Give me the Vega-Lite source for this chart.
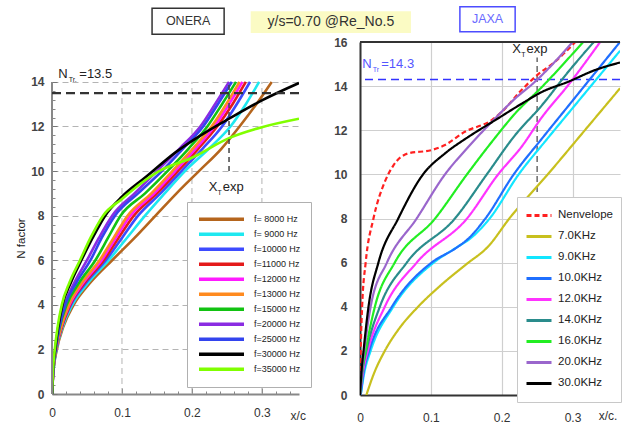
{
"$schema": "https://vega.github.io/schema/vega-lite/v6.json",
"padding": {"left": 15, "top": 5, "right": 0, "bottom": 0},
"columns": 2,
"align": "none",
"spacing": {"column": -78, "row": 0},
"config": {"font": "Liberation Sans", "view": {"stroke": null}},
"resolve": {"scale": {"color": "independent", "strokeDash": "independent"}},
"datasets": {
"onera": [
{"s":"f= 8000 Hz","x":0,"n":0},{"s":"f= 8000 Hz","x":0.002,"n":1},{"s":"f= 8000 Hz","x":0.007,"n":2},{"s":"f= 8000 Hz","x":0.016,"n":3},{"s":"f= 8000 Hz","x":0.031,"n":4},{"s":"f= 8000 Hz","x":0.055,"n":5},{"s":"f= 8000 Hz","x":0.086,"n":6},{"s":"f= 8000 Hz","x":0.118,"n":7},{"s":"f= 8000 Hz","x":0.148,"n":8},{"s":"f= 8000 Hz","x":0.178,"n":9},{"s":"f= 8000 Hz","x":0.21,"n":10},{"s":"f= 8000 Hz","x":0.242,"n":11},{"s":"f= 8000 Hz","x":0.268,"n":12},{"s":"f= 8000 Hz","x":0.292,"n":13},{"s":"f= 8000 Hz","x":0.314,"n":14},
{"s":"f= 9000 Hz","x":0,"n":0},{"s":"f= 9000 Hz","x":0.002,"n":1},{"s":"f= 9000 Hz","x":0.0065,"n":2},{"s":"f= 9000 Hz","x":0.015,"n":3},{"s":"f= 9000 Hz","x":0.029,"n":4},{"s":"f= 9000 Hz","x":0.052,"n":5},{"s":"f= 9000 Hz","x":0.081,"n":6},{"s":"f= 9000 Hz","x":0.107,"n":7},{"s":"f= 9000 Hz","x":0.133,"n":8},{"s":"f= 9000 Hz","x":0.161,"n":9},{"s":"f= 9000 Hz","x":0.19,"n":10},{"s":"f= 9000 Hz","x":0.224,"n":11},{"s":"f= 9000 Hz","x":0.255,"n":12},{"s":"f= 9000 Hz","x":0.277,"n":13},{"s":"f= 9000 Hz","x":0.296,"n":14},
{"s":"f=10000 Hz","x":0,"n":0},{"s":"f=10000 Hz","x":0.0018,"n":1},{"s":"f=10000 Hz","x":0.006,"n":2},{"s":"f=10000 Hz","x":0.014,"n":3},{"s":"f=10000 Hz","x":0.027,"n":4},{"s":"f=10000 Hz","x":0.049,"n":5},{"s":"f=10000 Hz","x":0.077,"n":6},{"s":"f=10000 Hz","x":0.1,"n":7},{"s":"f=10000 Hz","x":0.123,"n":8},{"s":"f=10000 Hz","x":0.155,"n":9},{"s":"f=10000 Hz","x":0.185,"n":10},{"s":"f=10000 Hz","x":0.215,"n":11},{"s":"f=10000 Hz","x":0.243,"n":12},{"s":"f=10000 Hz","x":0.264,"n":13},{"s":"f=10000 Hz","x":0.283,"n":14},
{"s":"f=11000 Hz","x":0,"n":0},{"s":"f=11000 Hz","x":0.0018,"n":1},{"s":"f=11000 Hz","x":0.006,"n":2},{"s":"f=11000 Hz","x":0.014,"n":3},{"s":"f=11000 Hz","x":0.026,"n":4},{"s":"f=11000 Hz","x":0.047,"n":5},{"s":"f=11000 Hz","x":0.074,"n":6},{"s":"f=11000 Hz","x":0.095,"n":7},{"s":"f=11000 Hz","x":0.117,"n":8},{"s":"f=11000 Hz","x":0.15,"n":9},{"s":"f=11000 Hz","x":0.18,"n":10},{"s":"f=11000 Hz","x":0.209,"n":11},{"s":"f=11000 Hz","x":0.236,"n":12},{"s":"f=11000 Hz","x":0.258,"n":13},{"s":"f=11000 Hz","x":0.277,"n":14},
{"s":"f=12000 Hz","x":0,"n":0},{"s":"f=12000 Hz","x":0.0017,"n":1},{"s":"f=12000 Hz","x":0.0058,"n":2},{"s":"f=12000 Hz","x":0.013,"n":3},{"s":"f=12000 Hz","x":0.025,"n":4},{"s":"f=12000 Hz","x":0.045,"n":5},{"s":"f=12000 Hz","x":0.071,"n":6},{"s":"f=12000 Hz","x":0.091,"n":7},{"s":"f=12000 Hz","x":0.112,"n":8},{"s":"f=12000 Hz","x":0.146,"n":9},{"s":"f=12000 Hz","x":0.176,"n":10},{"s":"f=12000 Hz","x":0.205,"n":11},{"s":"f=12000 Hz","x":0.232,"n":12},{"s":"f=12000 Hz","x":0.253,"n":13},{"s":"f=12000 Hz","x":0.272,"n":14},
{"s":"f=13000 Hz","x":0,"n":0},{"s":"f=13000 Hz","x":0.0017,"n":1},{"s":"f=13000 Hz","x":0.0056,"n":2},{"s":"f=13000 Hz","x":0.013,"n":3},{"s":"f=13000 Hz","x":0.024,"n":4},{"s":"f=13000 Hz","x":0.043,"n":5},{"s":"f=13000 Hz","x":0.068,"n":6},{"s":"f=13000 Hz","x":0.088,"n":7},{"s":"f=13000 Hz","x":0.108,"n":8},{"s":"f=13000 Hz","x":0.142,"n":9},{"s":"f=13000 Hz","x":0.172,"n":10},{"s":"f=13000 Hz","x":0.201,"n":11},{"s":"f=13000 Hz","x":0.228,"n":12},{"s":"f=13000 Hz","x":0.249,"n":13},{"s":"f=13000 Hz","x":0.268,"n":14},
{"s":"f=15000 Hz","x":0,"n":0},{"s":"f=15000 Hz","x":0.0016,"n":1},{"s":"f=15000 Hz","x":0.0053,"n":2},{"s":"f=15000 Hz","x":0.011,"n":3},{"s":"f=15000 Hz","x":0.021,"n":4},{"s":"f=15000 Hz","x":0.039,"n":5},{"s":"f=15000 Hz","x":0.062,"n":6},{"s":"f=15000 Hz","x":0.08,"n":7},{"s":"f=15000 Hz","x":0.098,"n":8},{"s":"f=15000 Hz","x":0.133,"n":9},{"s":"f=15000 Hz","x":0.165,"n":10},{"s":"f=15000 Hz","x":0.195,"n":11},{"s":"f=15000 Hz","x":0.222,"n":12},{"s":"f=15000 Hz","x":0.243,"n":13},{"s":"f=15000 Hz","x":0.263,"n":14},
{"s":"f=20000 Hz","x":0,"n":0},{"s":"f=20000 Hz","x":0.0015,"n":1},{"s":"f=20000 Hz","x":0.005,"n":2},{"s":"f=20000 Hz","x":0.01,"n":3},{"s":"f=20000 Hz","x":0.018,"n":4},{"s":"f=20000 Hz","x":0.032,"n":5},{"s":"f=20000 Hz","x":0.05,"n":6},{"s":"f=20000 Hz","x":0.067,"n":7},{"s":"f=20000 Hz","x":0.086,"n":8},{"s":"f=20000 Hz","x":0.118,"n":9},{"s":"f=20000 Hz","x":0.15,"n":10},{"s":"f=20000 Hz","x":0.182,"n":11},{"s":"f=20000 Hz","x":0.212,"n":12},{"s":"f=20000 Hz","x":0.233,"n":13},{"s":"f=20000 Hz","x":0.253,"n":14},
{"s":"f=25000 Hz","x":0,"n":0},{"s":"f=25000 Hz","x":0.0015,"n":1},{"s":"f=25000 Hz","x":0.005,"n":2},{"s":"f=25000 Hz","x":0.0105,"n":3},{"s":"f=25000 Hz","x":0.019,"n":4},{"s":"f=25000 Hz","x":0.035,"n":5},{"s":"f=25000 Hz","x":0.055,"n":6},{"s":"f=25000 Hz","x":0.071,"n":7},{"s":"f=25000 Hz","x":0.09,"n":8},{"s":"f=25000 Hz","x":0.123,"n":9},{"s":"f=25000 Hz","x":0.157,"n":10},{"s":"f=25000 Hz","x":0.187,"n":11},{"s":"f=25000 Hz","x":0.216,"n":12},{"s":"f=25000 Hz","x":0.237,"n":13},{"s":"f=25000 Hz","x":0.257,"n":14},
{"s":"f=30000 Hz","x":0,"n":0},{"s":"f=30000 Hz","x":0.0013,"n":1},{"s":"f=30000 Hz","x":0.0045,"n":2},{"s":"f=30000 Hz","x":0.009,"n":3},{"s":"f=30000 Hz","x":0.015,"n":4},{"s":"f=30000 Hz","x":0.027,"n":5},{"s":"f=30000 Hz","x":0.042,"n":6},{"s":"f=30000 Hz","x":0.058,"n":7},{"s":"f=30000 Hz","x":0.076,"n":8},{"s":"f=30000 Hz","x":0.1,"n":8.85},{"s":"f=30000 Hz","x":0.134,"n":9.73},{"s":"f=30000 Hz","x":0.177,"n":10.85},{"s":"f=30000 Hz","x":0.22,"n":11.75},{"s":"f=30000 Hz","x":0.253,"n":12.35},{"s":"f=30000 Hz","x":0.3,"n":13.17},{"s":"f=30000 Hz","x":0.353,"n":13.95},
{"s":"f=35000 Hz","x":0,"n":0},{"s":"f=35000 Hz","x":0.0013,"n":1},{"s":"f=35000 Hz","x":0.004,"n":2},{"s":"f=35000 Hz","x":0.008,"n":3},{"s":"f=35000 Hz","x":0.014,"n":4},{"s":"f=35000 Hz","x":0.025,"n":5},{"s":"f=35000 Hz","x":0.04,"n":6},{"s":"f=35000 Hz","x":0.055,"n":7},{"s":"f=35000 Hz","x":0.073,"n":8},{"s":"f=35000 Hz","x":0.1,"n":8.75},{"s":"f=35000 Hz","x":0.125,"n":9.4},{"s":"f=35000 Hz","x":0.153,"n":10.0},{"s":"f=35000 Hz","x":0.2,"n":10.6},{"s":"f=35000 Hz","x":0.253,"n":11.48},{"s":"f=35000 Hz","x":0.3,"n":11.97},{"s":"f=35000 Hz","x":0.353,"n":12.35}
],
"jaxa": [
{"s":"Nenvelope","x":0,"n":0},{"s":"Nenvelope","x":0.001,"n":2},{"s":"Nenvelope","x":0.003,"n":4},{"s":"Nenvelope","x":0.008,"n":6},{"s":"Nenvelope","x":0.019,"n":8},{"s":"Nenvelope","x":0.035,"n":9.66},{"s":"Nenvelope","x":0.047,"n":10.4},{"s":"Nenvelope","x":0.068,"n":10.95},{"s":"Nenvelope","x":0.101,"n":11.1},{"s":"Nenvelope","x":0.12,"n":11.33},{"s":"Nenvelope","x":0.148,"n":11.93},{"s":"Nenvelope","x":0.186,"n":12.46},{"s":"Nenvelope","x":0.2,"n":12.83},{"s":"Nenvelope","x":0.228,"n":13.82},{"s":"Nenvelope","x":0.25,"n":14.5},{"s":"Nenvelope","x":0.275,"n":15.1},{"s":"Nenvelope","x":0.304,"n":16},
{"s":"7.0KHz","x":0.009,"n":0},{"s":"7.0KHz","x":0.02,"n":1},{"s":"7.0KHz","x":0.035,"n":2},{"s":"7.0KHz","x":0.055,"n":3},{"s":"7.0KHz","x":0.082,"n":4},{"s":"7.0KHz","x":0.115,"n":5},{"s":"7.0KHz","x":0.151,"n":5.95},{"s":"7.0KHz","x":0.18,"n":6.7},{"s":"7.0KHz","x":0.212,"n":8.05},{"s":"7.0KHz","x":0.265,"n":10},{"s":"7.0KHz","x":0.32,"n":12.1},{"s":"7.0KHz","x":0.367,"n":13.9},
{"s":"9.0KHz","x":0.001,"n":0},{"s":"9.0KHz","x":0.006,"n":1},{"s":"9.0KHz","x":0.015,"n":2},{"s":"9.0KHz","x":0.047,"n":4},{"s":"9.0KHz","x":0.104,"n":6},{"s":"9.0KHz","x":0.137,"n":6.7},{"s":"9.0KHz","x":0.156,"n":7.1},{"s":"9.0KHz","x":0.183,"n":8},{"s":"9.0KHz","x":0.224,"n":10},{"s":"9.0KHz","x":0.264,"n":11.6},{"s":"9.0KHz","x":0.3,"n":13},{"s":"9.0KHz","x":0.367,"n":15.6},
{"s":"10.0KHz","x":0.001,"n":0},{"s":"10.0KHz","x":0.005,"n":1},{"s":"10.0KHz","x":0.013,"n":2},{"s":"10.0KHz","x":0.045,"n":4},{"s":"10.0KHz","x":0.101,"n":6},{"s":"10.0KHz","x":0.134,"n":6.63},{"s":"10.0KHz","x":0.153,"n":7.09},{"s":"10.0KHz","x":0.177,"n":8},{"s":"10.0KHz","x":0.217,"n":10},{"s":"10.0KHz","x":0.257,"n":11.63},{"s":"10.0KHz","x":0.294,"n":13.1},{"s":"10.0KHz","x":0.367,"n":16},
{"s":"12.0KHz","x":0,"n":0},{"s":"12.0KHz","x":0.004,"n":1},{"s":"12.0KHz","x":0.011,"n":2},{"s":"12.0KHz","x":0.035,"n":4},{"s":"12.0KHz","x":0.08,"n":6},{"s":"12.0KHz","x":0.151,"n":8},{"s":"12.0KHz","x":0.195,"n":10},{"s":"12.0KHz","x":0.228,"n":11.25},{"s":"12.0KHz","x":0.257,"n":12.6},{"s":"12.0KHz","x":0.294,"n":14.05},{"s":"12.0KHz","x":0.339,"n":16},
{"s":"14.0KHz","x":0,"n":0},{"s":"14.0KHz","x":0.003,"n":1},{"s":"14.0KHz","x":0.009,"n":2},{"s":"14.0KHz","x":0.028,"n":4},{"s":"14.0KHz","x":0.066,"n":6},{"s":"14.0KHz","x":0.134,"n":8},{"s":"14.0KHz","x":0.179,"n":10},{"s":"14.0KHz","x":0.219,"n":11.78},{"s":"14.0KHz","x":0.257,"n":13.14},{"s":"14.0KHz","x":0.294,"n":14.65},{"s":"14.0KHz","x":0.33,"n":16},
{"s":"16.0KHz","x":0,"n":0},{"s":"16.0KHz","x":0.003,"n":1},{"s":"16.0KHz","x":0.008,"n":2},{"s":"16.0KHz","x":0.021,"n":4},{"s":"16.0KHz","x":0.049,"n":6},{"s":"16.0KHz","x":0.106,"n":8},{"s":"16.0KHz","x":0.151,"n":10},{"s":"16.0KHz","x":0.186,"n":11.47},{"s":"16.0KHz","x":0.219,"n":12.76},{"s":"16.0KHz","x":0.257,"n":13.97},{"s":"16.0KHz","x":0.315,"n":16},
{"s":"20.0KHz","x":0,"n":0},{"s":"20.0KHz","x":0.0025,"n":1},{"s":"20.0KHz","x":0.006,"n":2},{"s":"20.0KHz","x":0.015,"n":4},{"s":"20.0KHz","x":0.038,"n":6},{"s":"20.0KHz","x":0.08,"n":8},{"s":"20.0KHz","x":0.12,"n":10},{"s":"20.0KHz","x":0.153,"n":11.25},{"s":"20.0KHz","x":0.186,"n":12.38},{"s":"20.0KHz","x":0.219,"n":13.44},{"s":"20.0KHz","x":0.247,"n":14.2},{"s":"20.0KHz","x":0.275,"n":15.1},{"s":"20.0KHz","x":0.3,"n":16},
{"s":"30.0KHz","x":0,"n":0},{"s":"30.0KHz","x":0.002,"n":1},{"s":"30.0KHz","x":0.005,"n":2},{"s":"30.0KHz","x":0.012,"n":4},{"s":"30.0KHz","x":0.026,"n":6},{"s":"30.0KHz","x":0.054,"n":8},{"s":"30.0KHz","x":0.089,"n":10},{"s":"30.0KHz","x":0.12,"n":10.95},{"s":"30.0KHz","x":0.153,"n":11.7},{"s":"30.0KHz","x":0.191,"n":12.46},{"s":"30.0KHz","x":0.228,"n":13.2},{"s":"30.0KHz","x":0.257,"n":13.74},{"s":"30.0KHz","x":0.294,"n":14.2},{"s":"30.0KHz","x":0.332,"n":14.73},{"s":"30.0KHz","x":0.367,"n":15.07}
]
},
"concat": [
{
"width": 247, "height": 352,
"resolve": {"axis": {"x": "independent", "y": "independent"}},
"layer": [
{"data": {"values": [{}]}, "mark": {"type": "rule", "color": "#b4b4b4", "strokeWidth": 1, "strokeDash": [6, 4]}, "encoding": {"x": {"datum": 0.1, "type": "quantitative", "axis": null}, "y": {"datum": 0, "type": "quantitative", "axis": null}, "y2": {"datum": 14}}},
{"data": {"values": [{}]}, "mark": {"type": "rule", "color": "#b4b4b4", "strokeWidth": 1, "strokeDash": [6, 4]}, "encoding": {"x": {"datum": 0.2, "type": "quantitative", "axis": null}, "y": {"datum": 0, "type": "quantitative", "axis": null}, "y2": {"datum": 14}}},
{"data": {"values": [{}]}, "mark": {"type": "rule", "color": "#b4b4b4", "strokeWidth": 1, "strokeDash": [6, 4]}, "encoding": {"x": {"datum": 0.3, "type": "quantitative", "axis": null}, "y": {"datum": 0, "type": "quantitative", "axis": null}, "y2": {"datum": 14}}},
{"data": {"values": [{}]}, "mark": {"type": "rect", "fill": "#fbfbc4"}, "encoding": {"x": {"datum": 0.284, "type": "quantitative", "axis": null}, "x2": {"datum": 0.513}, "y": {"datum": 17.17, "type": "quantitative", "axis": null}, "y2": {"datum": 16.19}}},
{"data": {"values": [{}]}, "mark": {"type": "rect", "fill": "white", "stroke": "#333", "strokeWidth": 1.5}, "encoding": {"x": {"datum": 0.143, "type": "quantitative", "axis": null}, "x2": {"datum": 0.246}, "y": {"datum": 17.3, "type": "quantitative", "axis": null}, "y2": {"datum": 16.14}}},
{"data": {"values": [{}]}, "mark": {"type": "text", "text": "ONERA", "fontSize": 12.5, "color": "#333", "align": "center", "baseline": "middle"}, "encoding": {"x": {"datum": 0.1945, "type": "quantitative", "axis": null}, "y": {"datum": 16.72, "type": "quantitative", "axis": null}}},
{"data": {"values": [{}]}, "mark": {"type": "text", "text": "y/s=0.70 @Re_No.5", "fontSize": 14, "color": "#333", "align": "center", "baseline": "middle"}, "encoding": {"x": {"datum": 0.3985, "type": "quantitative", "axis": null}, "y": {"datum": 16.68, "type": "quantitative", "axis": null}}},
{"data": {"name": "onera"}, "mark": {"type": "line", "strokeWidth": 2.6, "clip": true, "interpolate": "monotone"},
 "encoding": {
  "x": {"field": "x", "type": "quantitative", "scale": {"domain": [0, 0.353], "nice": false, "zero": false},
        "axis": {"title": null, "values": [0, 0.1, 0.2, 0.3], "format": ".1~f", "labelFlush": false, "labelFontSize": 12, "labelColor": "#333", "labelPadding": 19, "tickSize": -6, "tickColor": "#777", "domainColor": "#888", "domainWidth": 2, "grid": false}},
  "y": {"field": "n", "type": "quantitative", "scale": {"domain": [0, 15.79], "nice": false, "zero": false},
        "axis": {"title": "N factor", "titleFontSize": 11.5, "titleFontWeight": "normal", "titleColor": "#222", "titlePadding": 4, "titleY": 196, "values": [0, 2, 4, 6, 8, 10, 12, 14], "labelFlush": false, "labelFontSize": 12, "labelFontWeight": "bold", "labelColor": "#444", "labelPadding": 13, "tickSize": -5, "tickColor": "#777", "domain": false, "grid": true, "gridDash": [6, 4], "gridColor": "#b4b4b4"}},
  "color": {"field": "s", "type": "nominal",
    "scale": {"domain": ["f= 8000 Hz","f= 9000 Hz","f=10000 Hz","f=11000 Hz","f=12000 Hz","f=13000 Hz","f=15000 Hz","f=20000 Hz","f=25000 Hz","f=30000 Hz","f=35000 Hz"],
              "range": ["#b5651d","#1ee8f0","#3d4bff","#e41a1a","#ff1aff","#ff8a1f","#12c212","#8a2be2","#3344ee","#000000","#80ff00"]},
    "legend": {"orient": "none", "legendX": 135, "legendY": 160, "title": null, "symbolType": "stroke", "symbolSize": 2025, "symbolStrokeWidth": 3.5, "clipHeight": 14.7, "rowPadding": 0, "labelFontSize": 9, "labelColor": "#222", "labelOffset": 8, "padding": 10, "strokeColor": "#b0b0b0", "fillColor": "white"}}
 }},
{"data": {"values": [{}]}, "mark": {"type": "rule", "color": "#888", "strokeWidth": 2},
 "encoding": {
  "x": {"datum": 0, "type": "quantitative", "axis": {"orient": "bottom", "values": [0.02,0.04,0.06,0.08,0.12,0.14,0.16,0.18,0.22,0.24,0.26,0.28,0.32,0.34], "labels": false, "domain": false, "grid": false, "title": null, "tickSize": -3, "tickColor": "#888"}},
  "y": {"datum": 0, "type": "quantitative", "axis": {"orient": "left", "values": [0.4,0.8,1.2,1.6,2.4,2.8,3.2,3.6,4.4,4.8,5.2,5.6,6.4,6.8,7.2,7.6,8.4,8.8,9.2,9.6,10.4,10.8,11.2,11.6,12.4,12.8,13.2,13.6], "labels": false, "domain": false, "grid": false, "title": null, "tickSize": -3, "tickColor": "#888"}},
  "y2": {"datum": 14}}},
{"data": {"values": [{}]}, "mark": {"type": "rule", "color": "#333", "strokeWidth": 2.2, "strokeDash": [9, 5]}, "encoding": {"y": {"datum": 13.5, "type": "quantitative", "axis": null}}},
{"data": {"values": [{}]}, "mark": {"type": "rule", "color": "#444", "strokeWidth": 1.5, "strokeDash": [5, 4]}, "encoding": {"x": {"datum": 0.253, "type": "quantitative", "axis": null}, "y": {"datum": 10, "type": "quantitative", "axis": null}, "y2": {"datum": 14}}},
{"data": {"values": [{}]}, "mark": {"type": "text", "text": "N", "fontSize": 13, "color": "#222", "align": "left", "baseline": "middle"}, "encoding": {"x": {"datum": 0.009, "type": "quantitative", "axis": null}, "y": {"datum": 14.35, "type": "quantitative", "axis": null}}},
{"data": {"values": [{}]}, "mark": {"type": "text", "text": "Tr.", "fontSize": 7, "color": "#222", "align": "left", "baseline": "middle"}, "encoding": {"x": {"datum": 0.024, "type": "quantitative", "axis": null}, "y": {"datum": 14.08, "type": "quantitative", "axis": null}}},
{"data": {"values": [{}]}, "mark": {"type": "text", "text": "=13.5", "fontSize": 13, "color": "#222", "align": "left", "baseline": "middle"}, "encoding": {"x": {"datum": 0.039, "type": "quantitative", "axis": null}, "y": {"datum": 14.35, "type": "quantitative", "axis": null}}},
{"data": {"values": [{}]}, "mark": {"type": "text", "text": "X", "fontSize": 13, "color": "#222", "align": "left", "baseline": "middle"}, "encoding": {"x": {"datum": 0.224, "type": "quantitative", "axis": null}, "y": {"datum": 9.28, "type": "quantitative", "axis": null}}},
{"data": {"values": [{}]}, "mark": {"type": "text", "text": "T", "fontSize": 7, "color": "#222", "align": "left", "baseline": "middle"}, "encoding": {"x": {"datum": 0.2365, "type": "quantitative", "axis": null}, "y": {"datum": 9.0, "type": "quantitative", "axis": null}}},
{"data": {"values": [{}]}, "mark": {"type": "text", "text": "exp", "fontSize": 13, "color": "#222", "align": "left", "baseline": "middle"}, "encoding": {"x": {"datum": 0.244, "type": "quantitative", "axis": null}, "y": {"datum": 9.28, "type": "quantitative", "axis": null}}},
{"data": {"values": [{}]}, "mark": {"type": "text", "text": "x/c", "fontSize": 12, "color": "#333", "align": "left", "baseline": "middle"}, "encoding": {"x": {"datum": 0.341, "type": "quantitative", "axis": null}, "y": {"datum": -0.98, "type": "quantitative", "axis": null}}}
]
},
{
"width": 260, "height": 353,
"layer": [
{"data": {"values": [{}]}, "mark": {"type": "rect", "fill": "white", "stroke": "#4d4dff", "strokeWidth": 1.5}, "encoding": {"x": {"datum": 0.141, "type": "quantitative"}, "x2": {"datum": 0.219}, "y": {"datum": 17.6, "type": "quantitative"}, "y2": {"datum": 16.46}}},
{"data": {"values": [{}]}, "mark": {"type": "text", "text": "JAXA", "fontSize": 12.5, "color": "#6a6aff", "align": "center", "baseline": "middle"}, "encoding": {"x": {"datum": 0.18, "type": "quantitative"}, "y": {"datum": 17.05, "type": "quantitative"}}},
{"data": {"values": [{}]}, "mark": {"type": "rule", "color": "#3333ff", "strokeWidth": 1.5, "strokeDash": [8, 5]}, "encoding": {"y": {"datum": 14.3, "type": "quantitative"}}},
{"data": {"values": [{}]}, "mark": {"type": "rule", "color": "#444", "strokeWidth": 1.2, "strokeDash": [6, 4]}, "encoding": {"x": {"datum": 0.25, "type": "quantitative"}, "y": {"datum": 9.2, "type": "quantitative"}, "y2": {"datum": 15.3}}},
{"data": {"name": "jaxa"}, "mark": {"type": "line", "strokeWidth": 2.2, "clip": true, "interpolate": "monotone"},
 "encoding": {
  "x": {"field": "x", "type": "quantitative", "scale": {"domain": [0, 0.367], "nice": false, "zero": false},
        "axis": {"title": null, "values": [0, 0.1, 0.2, 0.3], "format": ".1~f", "labelFlush": false, "labelFontSize": 12, "labelColor": "#333", "labelPadding": 17, "ticks": false, "domainColor": "#333", "domainWidth": 2, "grid": true, "gridColor": "#cfcfcf", "gridWidth": 1.2}},
  "y": {"field": "n", "type": "quantitative", "scale": {"domain": [0, 16], "nice": false, "zero": false},
        "axis": {"title": null, "values": [0, 2, 4, 6, 8, 10, 12, 14, 16], "labelFlush": false, "labelFontSize": 12, "labelFontWeight": "bold", "labelColor": "#444", "labelPadding": 13, "ticks": false, "domainColor": "#333", "domainWidth": 2, "grid": true, "gridColor": "#cfcfcf", "gridWidth": 1.2}},
  "color": {"field": "s", "type": "nominal",
    "scale": {"domain": ["Nenvelope","7.0KHz","9.0KHz","10.0KHz","12.0KHz","14.0KHz","16.0KHz","20.0KHz","30.0KHz"],
              "range": ["#ff2020","#c8c01e","#12e6ff","#1f6fff","#ff33ff","#2a8c8c","#22ee22","#9a66cc","#000000"]},
    "legend": {"orient": "none", "legendX": 157, "legendY": 155, "title": null, "symbolType": "stroke", "symbolSize": 625, "symbolStrokeWidth": 3, "clipHeight": 20.8, "rowPadding": 0, "labelFontSize": 11.5, "labelColor": "#222", "labelOffset": 5, "padding": 8, "strokeColor": "#c8c8c8", "fillColor": "white"}},
  "strokeDash": {"field": "s", "type": "nominal",
    "scale": {"domain": ["Nenvelope","7.0KHz","9.0KHz","10.0KHz","12.0KHz","14.0KHz","16.0KHz","20.0KHz","30.0KHz"],
              "range": [[5, 3], [1, 0], [1, 0], [1, 0], [1, 0], [1, 0], [1, 0], [1, 0], [1, 0]]},
    "legend": {"orient": "none", "legendX": 157, "legendY": 155, "title": null, "symbolType": "stroke", "symbolSize": 625, "symbolStrokeWidth": 3, "clipHeight": 20.8, "rowPadding": 0, "labelFontSize": 11.5, "labelColor": "#222", "labelOffset": 5, "padding": 8, "strokeColor": "#c8c8c8", "fillColor": "white"}}
 }},
{"data": {"values": [{}]}, "mark": {"type": "rule", "color": "#333", "strokeWidth": 2}, "encoding": {"y": {"datum": 16, "type": "quantitative"}}},
{"data": {"values": [{}]}, "mark": {"type": "text", "text": "N", "fontSize": 13, "color": "#5555ff", "align": "left", "baseline": "middle"}, "encoding": {"x": {"datum": 0.003, "type": "quantitative"}, "y": {"datum": 15.0, "type": "quantitative"}}},
{"data": {"values": [{}]}, "mark": {"type": "text", "text": "Tr", "fontSize": 7, "color": "#5555ff", "align": "left", "baseline": "middle"}, "encoding": {"x": {"datum": 0.018, "type": "quantitative"}, "y": {"datum": 14.75, "type": "quantitative"}}},
{"data": {"values": [{}]}, "mark": {"type": "text", "text": "=14.3", "fontSize": 13, "color": "#5555ff", "align": "left", "baseline": "middle"}, "encoding": {"x": {"datum": 0.03, "type": "quantitative"}, "y": {"datum": 15.0, "type": "quantitative"}}},
{"data": {"values": [{}]}, "mark": {"type": "text", "text": "X", "fontSize": 13, "color": "#222", "align": "left", "baseline": "middle"}, "encoding": {"x": {"datum": 0.215, "type": "quantitative"}, "y": {"datum": 15.7, "type": "quantitative"}}},
{"data": {"values": [{}]}, "mark": {"type": "text", "text": "T", "fontSize": 7, "color": "#222", "align": "left", "baseline": "middle"}, "encoding": {"x": {"datum": 0.2275, "type": "quantitative"}, "y": {"datum": 15.43, "type": "quantitative"}}},
{"data": {"values": [{}]}, "mark": {"type": "text", "text": "exp", "fontSize": 13, "color": "#222", "align": "left", "baseline": "middle"}, "encoding": {"x": {"datum": 0.235, "type": "quantitative"}, "y": {"datum": 15.7, "type": "quantitative"}}},
{"data": {"values": [{}]}, "mark": {"type": "text", "text": "x/c.", "fontSize": 12, "color": "#333", "align": "left", "baseline": "middle"}, "encoding": {"x": {"datum": 0.337, "type": "quantitative"}, "y": {"datum": -0.95, "type": "quantitative"}}}
]
}
]
}
